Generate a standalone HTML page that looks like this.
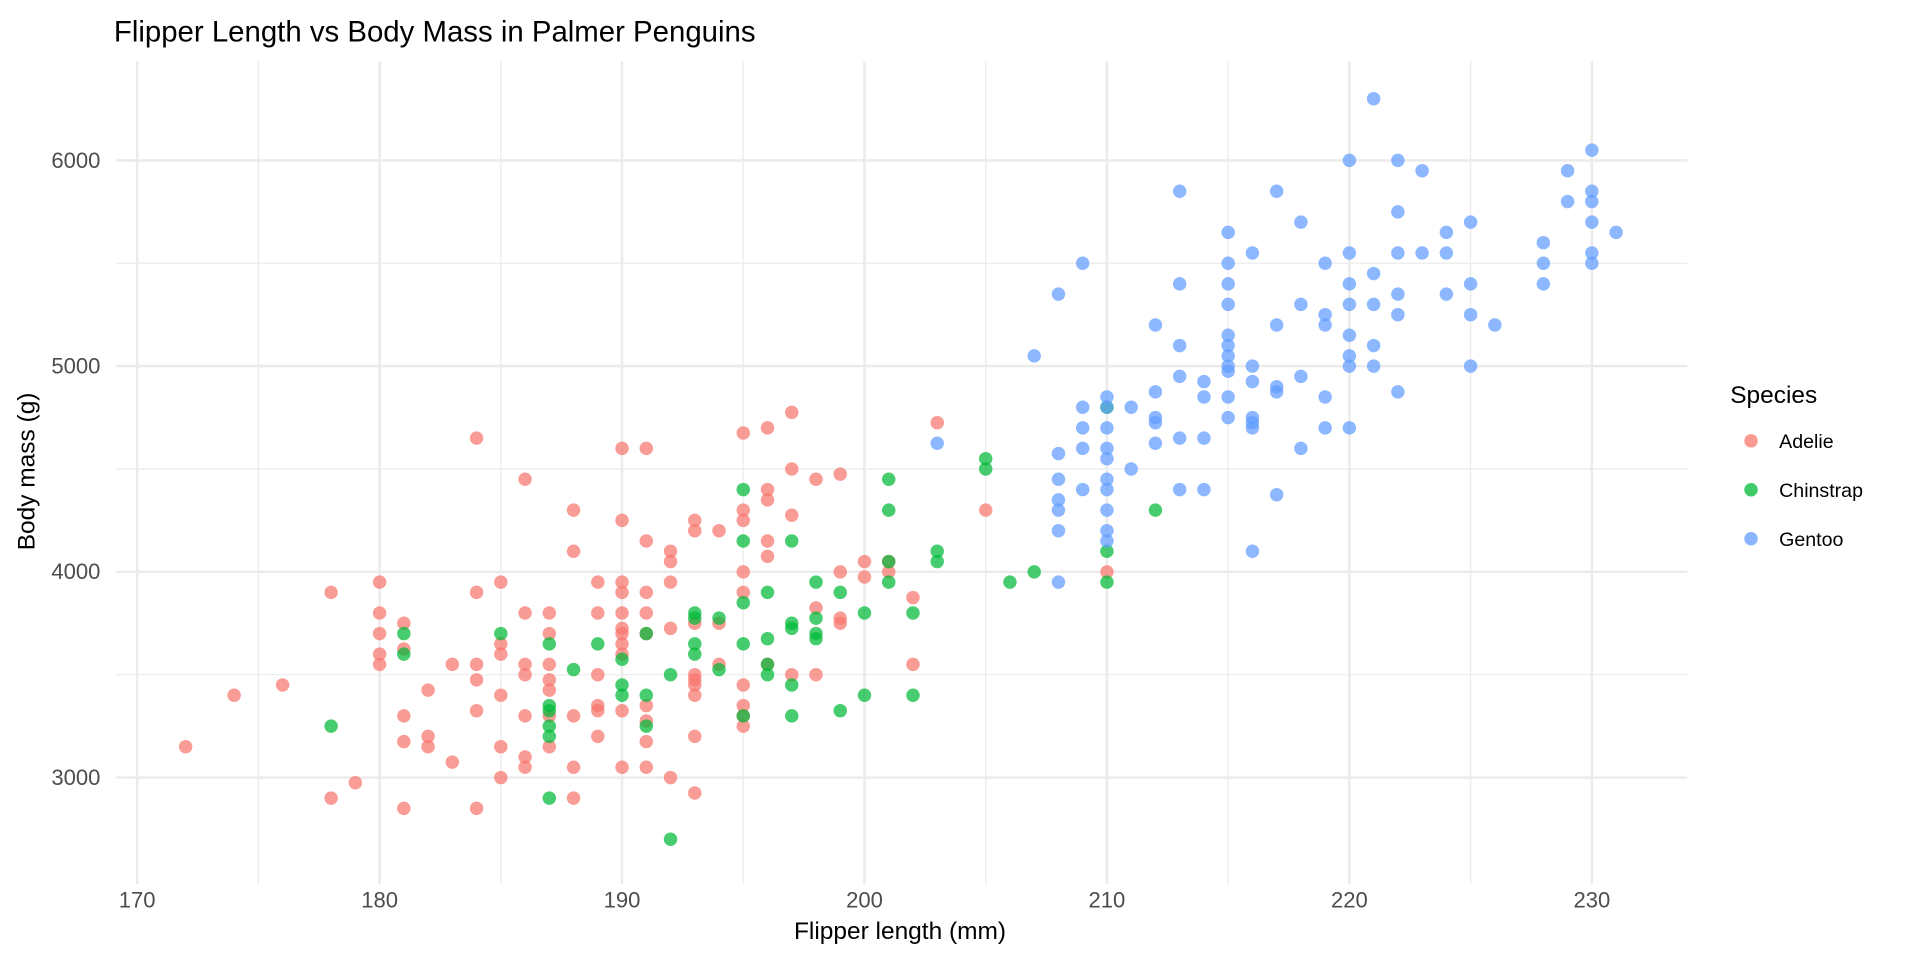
<!DOCTYPE html>
<html><head><meta charset="utf-8"><style>
body{margin:0;background:#fff;}
svg{display:block;font-family:"Liberation Sans",Arial,sans-serif;}
</style></head><body>
<svg id="s" width="1920" height="960" viewBox="0 0 1568 784" xmlns="http://www.w3.org/2000/svg">
<rect width="1568" height="784" fill="#fff"/>
<g id="grid"></g>
<g id="pts"></g>
<text x="93" y="34" font-size="24" fill="#000">Flipper Length vs Body Mass in Palmer Penguins</text>
<text x="735" y="767" font-size="20" text-anchor="middle" fill="#000">Flipper length (mm)</text>
<text transform="translate(28,385) rotate(-90)" font-size="20" text-anchor="middle" fill="#000">Body mass (g)</text>
<text x="1413" y="329" font-size="20" fill="#000">Species</text>
<circle cx="1430" cy="360" r="5.5" fill="#F8766D" fill-opacity="0.75"/>
<circle cx="1430" cy="400" r="5.5" fill="#00BA38" fill-opacity="0.75"/>
<circle cx="1430" cy="440" r="5.5" fill="#619CFF" fill-opacity="0.75"/>
<text x="1453" y="366" font-size="16" fill="#000">Adelie</text>
<text x="1453" y="406" font-size="16" fill="#000">Chinstrap</text>
<text x="1453" y="446" font-size="16" fill="#000">Gentoo</text>
</svg>
<script>
var NS="http://www.w3.org/2000/svg";
function X(f){return 112+(f-170)*19.8;}
function Y(m){return 635-(m-3000)*0.168;}
var g=document.getElementById('grid'),s=document.getElementById('s');
function el(p,t,a,txt){var e=document.createElementNS(NS,t);for(var k in a)e.setAttribute(k,a[k]);if(txt)e.textContent=txt;p.appendChild(e);return e;}
for(var f=170;f<=230;f+=5){var x=X(f);el(g,'line',{x1:x,x2:x,y1:50,y2:722,stroke:'#ebebeb','stroke-width':f%10?1:2});
 if(f%10==0)el(s,'text',{x:x,y:741,'font-size':18,'text-anchor':'middle',fill:'#4d4d4d'},f);}
for(var m=3000;m<=6000;m+=500){var y=Y(m);el(g,'line',{x1:95,x2:1378,y1:y,y2:y,stroke:'#ebebeb','stroke-width':m%1000?1:2});
 if(m%1000==0)el(s,'text',{x:82,y:y+6,'font-size':18,'text-anchor':'end',fill:'#4d4d4d'},m);}
var A=[[172,3150],[174,3400],[176,3450],[178,3900],[178,2900],[179,2975],[180,3950],[180,3800],[180,3700],[180,3600],[180,3550],[181,3750],[181,3625],[181,3300],[181,3175],[181,2850],[182,3425],[182,3200],[182,3150],[183,3550],[183,3075],[184,4650],[184,3900],[184,3550],[184,3475],[184,3325],[184,2850],[185,3950],[185,3650],[185,3600],[185,3400],[185,3150],[185,3000],[186,4450],[186,3800],[186,3550],[186,3500],[186,3300],[186,3100],[186,3050],[187,3800],[187,3700],[187,3550],[187,3475],[187,3425],[187,3300],[187,3150],[188,4300],[188,4100],[188,3300],[188,3050],[188,2900],[189,3950],[189,3800],[189,3500],[189,3350],[189,3325],[189,3200],[190,4600],[190,4250],[190,3950],[190,3900],[190,3800],[190,3725],[190,3700],[190,3650],[190,3600],[190,3325],[190,3050],[191,4600],[191,4150],[191,3900],[191,3800],[191,3700],[191,3350],[191,3275],[191,3175],[191,3050],[192,4100],[192,4050],[192,3950],[192,3725],[192,3000],[193,4250],[193,4200],[193,3750],[193,3500],[193,3475],[193,3450],[193,3400],[193,3200],[193,2925],[194,4200],[194,3750],[194,3550],[195,4675],[195,4300],[195,4250],[195,4000],[195,3900],[195,3450],[195,3350],[195,3300],[195,3250],[196,4700],[196,4400],[196,4350],[196,4150],[196,4075],[196,3550],[197,4775],[197,4500],[197,4275],[197,3500],[198,4450],[198,3825],[198,3500],[199,4475],[199,4000],[199,3775],[199,3750],[200,4050],[200,3975],[201,4050],[201,4000],[202,3875],[202,3550],[203,4725],[205,4300],[210,4000]];
var C=[[178,3250],[181,3700],[181,3600],[185,3700],[187,3650],[187,3350],[187,3325],[187,3250],[187,3200],[187,2900],[188,3525],[189,3650],[190,3450],[190,3575],[190,3400],[191,3700],[191,3400],[191,3250],[192,3500],[192,2700],[193,3800],[193,3775],[193,3650],[193,3600],[194,3775],[194,3525],[195,4400],[195,4150],[195,3850],[195,3650],[195,3300],[196,3900],[196,3675],[196,3550],[196,3500],[197,4150],[197,3750],[197,3725],[197,3450],[197,3300],[198,3950],[198,3775],[198,3700],[198,3675],[199,3900],[199,3325],[200,3800],[200,3400],[201,4450],[201,4300],[201,4050],[201,3950],[202,3800],[202,3400],[203,4100],[203,4050],[205,4550],[205,4500],[206,3950],[207,4000],[210,4800],[210,4100],[210,3950],[212,4300]];
var G=[[203,4625],[207,5050],[208,5350],[208,4575],[208,4450],[208,4350],[208,4300],[208,4200],[208,3950],[209,5500],[209,4800],[209,4700],[209,4600],[209,4400],[210,4850],[210,4800],[210,4700],[210,4600],[210,4550],[210,4450],[210,4400],[210,4300],[210,4200],[210,4150],[211,4800],[211,4500],[212,5200],[212,4875],[212,4750],[212,4725],[212,4625],[213,5850],[213,5400],[213,5100],[213,4950],[213,4650],[213,4400],[214,4925],[214,4850],[214,4650],[214,4400],[215,5650],[215,5500],[215,5400],[215,5300],[215,5150],[215,5100],[215,5050],[215,5000],[215,4975],[215,4850],[215,4750],[216,5550],[216,5000],[216,4925],[216,4750],[216,4725],[216,4700],[216,4100],[217,5850],[217,5200],[217,4900],[217,4875],[217,4375],[218,5700],[218,5300],[218,4950],[218,4600],[219,5500],[219,5250],[219,5200],[219,4850],[219,4700],[220,6000],[220,5550],[220,5400],[220,5300],[220,5150],[220,5050],[220,5000],[220,4700],[221,6300],[221,5450],[221,5300],[221,5100],[221,5000],[222,6000],[222,5750],[222,5550],[222,5350],[222,5250],[222,4875],[223,5950],[223,5550],[224,5650],[224,5550],[224,5350],[225,5700],[225,5400],[225,5250],[225,5000],[226,5200],[228,5600],[228,5500],[228,5400],[229,5950],[229,5800],[230,6050],[230,5850],[230,5800],[230,5700],[230,5550],[230,5500],[231,5650]];
var p=document.getElementById('pts');
[[A,'#F8766D'],[C,'#00BA38'],[G,'#619CFF']].forEach(function(d){d[0].forEach(function(q){el(p,'circle',{cx:X(q[0]),cy:Y(q[1]),r:5.5,fill:d[1],'fill-opacity':0.72});});});
</script>
</body></html>
